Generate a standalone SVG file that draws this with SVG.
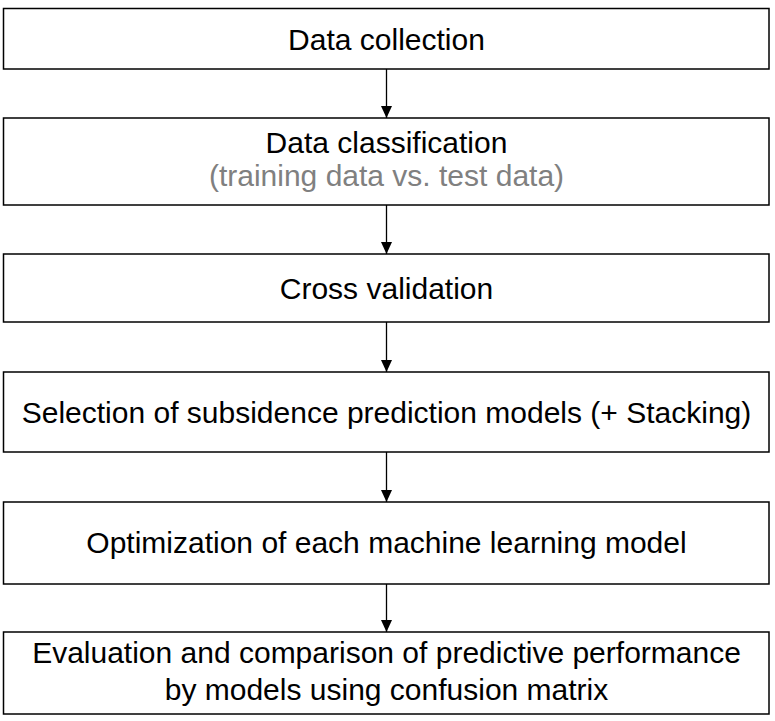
<svg xmlns="http://www.w3.org/2000/svg" width="775" height="721" viewBox="0 0 775 721">
<style>
.box{fill:#fff;stroke:#000;stroke-width:1.5}
.t{font-family:"Liberation Sans",Arial,sans-serif;font-size:30px;fill:#000;text-anchor:middle}
.g{fill:#808080}
.c{stroke:#000;stroke-width:1.3;fill:none}
</style>
<defs>
<marker id="ah" markerWidth="12" markerHeight="12" viewBox="0 0 12 12" refX="12" refY="6" orient="auto" markerUnits="userSpaceOnUse">
<path d="M0,0.5 L12,6 L0,11.5 Z" fill="#000"/>
</marker>
</defs>
<rect width="775" height="721" fill="#fff"/>
<g id="n1"><rect class="box" x="3.5" y="8.5" width="765.5" height="60.5"/><text class="t" x="386.5" y="50">Data collection</text></g>
<g id="n2"><rect class="box" x="3.5" y="118" width="765.5" height="87"/><text class="t" x="386.5" y="153">Data classification</text><text class="t g" x="386.5" y="186">(training data vs. test data)</text></g>
<g id="n3"><rect class="box" x="3.5" y="254" width="765.5" height="68"/><text class="t" x="386.5" y="299">Cross validation</text></g>
<g id="n4"><rect class="box" x="3.5" y="372" width="765.5" height="80"/><text class="t" x="386.5" y="423">Selection of subsidence prediction models (+ Stacking)</text></g>
<g id="n5"><rect class="box" x="3.5" y="502" width="765.5" height="82"/><text class="t" x="386.5" y="553">Optimization of each machine learning model</text></g>
<g id="n6"><rect class="box" x="3.5" y="632" width="765.5" height="82"/><text class="t" x="386.5" y="663">Evaluation and comparison of predictive performance</text><text class="t" x="386.5" y="700">by models using confusion matrix</text></g>
<g id="connectors">
<line class="c" x1="386.5" y1="69" x2="386.5" y2="118" marker-end="url(#ah)"/>
<line class="c" x1="386.5" y1="205" x2="386.5" y2="254" marker-end="url(#ah)"/>
<line class="c" x1="386.5" y1="322" x2="386.5" y2="372" marker-end="url(#ah)"/>
<line class="c" x1="386.5" y1="452" x2="386.5" y2="502" marker-end="url(#ah)"/>
<line class="c" x1="386.5" y1="584" x2="386.5" y2="632" marker-end="url(#ah)"/>
</g>
</svg>
